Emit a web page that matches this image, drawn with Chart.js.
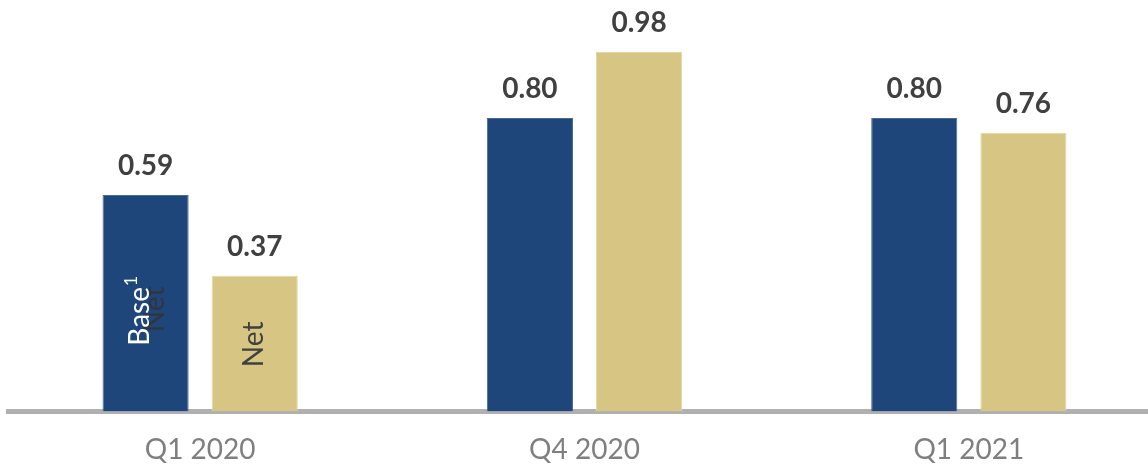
<!DOCTYPE html>
<html>
<head>
<meta charset="utf-8">
<script src="https://cdn.jsdelivr.net/npm/chart.js@4"></script>
<style>
  html, body { margin: 0; padding: 0; background: #fff; overflow: hidden; }
  #wrap { width: 1161px; height: 489px; }
</style>
</head>
<body>
<div id="wrap"><canvas id="myChart" width="1161" height="489"></canvas></div>
<script>
const quarters = ["Q1 2020", "Q4 2020", "Q1 2021"];
const baseValues = [0.59, 0.80, 0.80];
const netValues = [0.37, 0.98, 0.76];
const seriesNames = ["Base", "Net"];

const blue = "#1f467a";
const tan = "#d7c584";

// value labels above bars + names written inside the first pair of bars
const barLabels = {
    id: "barLabels",
    afterDatasetsDraw(chart) {
        const ctx = chart.ctx;
        ctx.save();
        chart.data.datasets.forEach((ds, i) => {
            const meta = chart.getDatasetMeta(i);
            meta.data.forEach((bar, j) => {
                ctx.fillStyle = "#404040";
                ctx.font = "bold 28px Lato";
                ctx.textAlign = "center";
                ctx.textBaseline = "alphabetic";
                ctx.fillText(ds.data[j].toFixed(2), bar.x, bar.y - 20);
            });
        });

        const b = chart.getDatasetMeta(0).data[0];
        const n = chart.getDatasetMeta(1).data[0];
        ctx.textAlign = "center";
        ctx.textBaseline = "middle";

        // stray "Net" showing through the blue bar
        ctx.save();
        ctx.translate(b.x + 9, b.base - 102);
        ctx.rotate(-Math.PI / 2);
        ctx.font = "28px Lato";
        ctx.fillStyle = "rgba(50,50,50,0.85)";
        ctx.fillText(seriesNames[1], 0, 0);
        ctx.restore();

        ctx.save();
        ctx.translate(b.x - 6, b.base - 100);
        ctx.rotate(-Math.PI / 2);
        ctx.fillStyle = "#ffffff";
        ctx.font = "28px Lato";
        ctx.fillText(seriesNames[0], -5, 0);
        const w = ctx.measureText(seriesNames[0]).width;
        ctx.font = "18px Lato";
        ctx.fillText("1", -5 + w / 2 + 6, -8);
        ctx.restore();

        ctx.save();
        ctx.translate(n.x - 1, n.base - 67);
        ctx.rotate(-Math.PI / 2);
        ctx.fillStyle = "#404040";
        ctx.font = "28px Lato";
        ctx.fillText(seriesNames[1], 0, 0);
        ctx.restore();

        ctx.restore();
    }
};

new Chart(document.getElementById("myChart"), {
    type: "bar",
    data: {
        labels: quarters,
        datasets: [
            {
                label: seriesNames[0],
                data: baseValues,
                backgroundColor: blue,
                borderColor: "#4a6a96",
                borderWidth: 1,
                barPercentage: 0.789,
                categoryPercentage: 0.568
            },
            {
                label: seriesNames[1],
                data: netValues,
                backgroundColor: tan,
                borderColor: "#e4d7a6",
                borderWidth: 1,
                barPercentage: 0.789,
                categoryPercentage: 0.568
            }
        ]
    },
    options: {
        responsive: false,
        animation: false,
        layout: { padding: { left: 8, top: 8, right: 0, bottom: 0 } },
        plugins: {
            legend: { display: false },
            tooltip: { enabled: false }
        },
        scales: {
            x: {
                z: 1,
                grid: { display: false, drawTicks: false },
                border: { display: true, color: "#b0b0b0", width: 5 },
                ticks: {
                    color: "#7f7f7f",
                    font: { family: "Lato", size: 28 },
                    padding: 22
                }
            },
            y: {
                display: false,
                min: 0,
                max: 1.1
            }
        }
    },
    plugins: [barLabels]
});
</script>
</body>
</html>
